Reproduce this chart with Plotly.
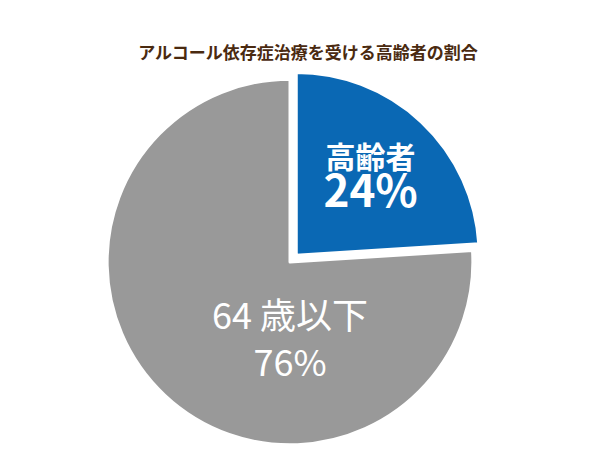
import plotly.graph_objects as go

labels = ["高齢者", "64 歳以下"]
values = [24, 76]
texts = ["<b>高齢者<br><span style='font-size:44px'>24%</span></b>", "64 歳以下<br>76%"]

fig = go.Figure(go.Pie(
    labels=labels, values=values, text=texts, textinfo="text",
    sort=False, direction="clockwise", rotation=0,
    pull=[0.05, 0],
    domain=dict(x=[0, 0.94], y=[0, 1]),
    marker=dict(colors=["#0a68b4", "#999999"], line=dict(color="white", width=3)),
    textposition="inside", insidetextorientation="horizontal",
    textfont=dict(color="white", size=[30, 36], family="Noto Sans CJK JP"),
    hoverinfo="skip", showlegend=False,
))
fig.update_layout(
    width=600, height=450, paper_bgcolor="white",
    margin=dict(t=62, b=4, l=0, r=0),
    title=dict(text="<b>アルコール依存症治療を受ける高齢者の割合</b>", x=0.5, y=0.9,
               xanchor="center", yanchor="middle",
               font=dict(size=17, color="#4a2a10", family="Noto Sans CJK JP")),
)
fig.write_html("out.html")
